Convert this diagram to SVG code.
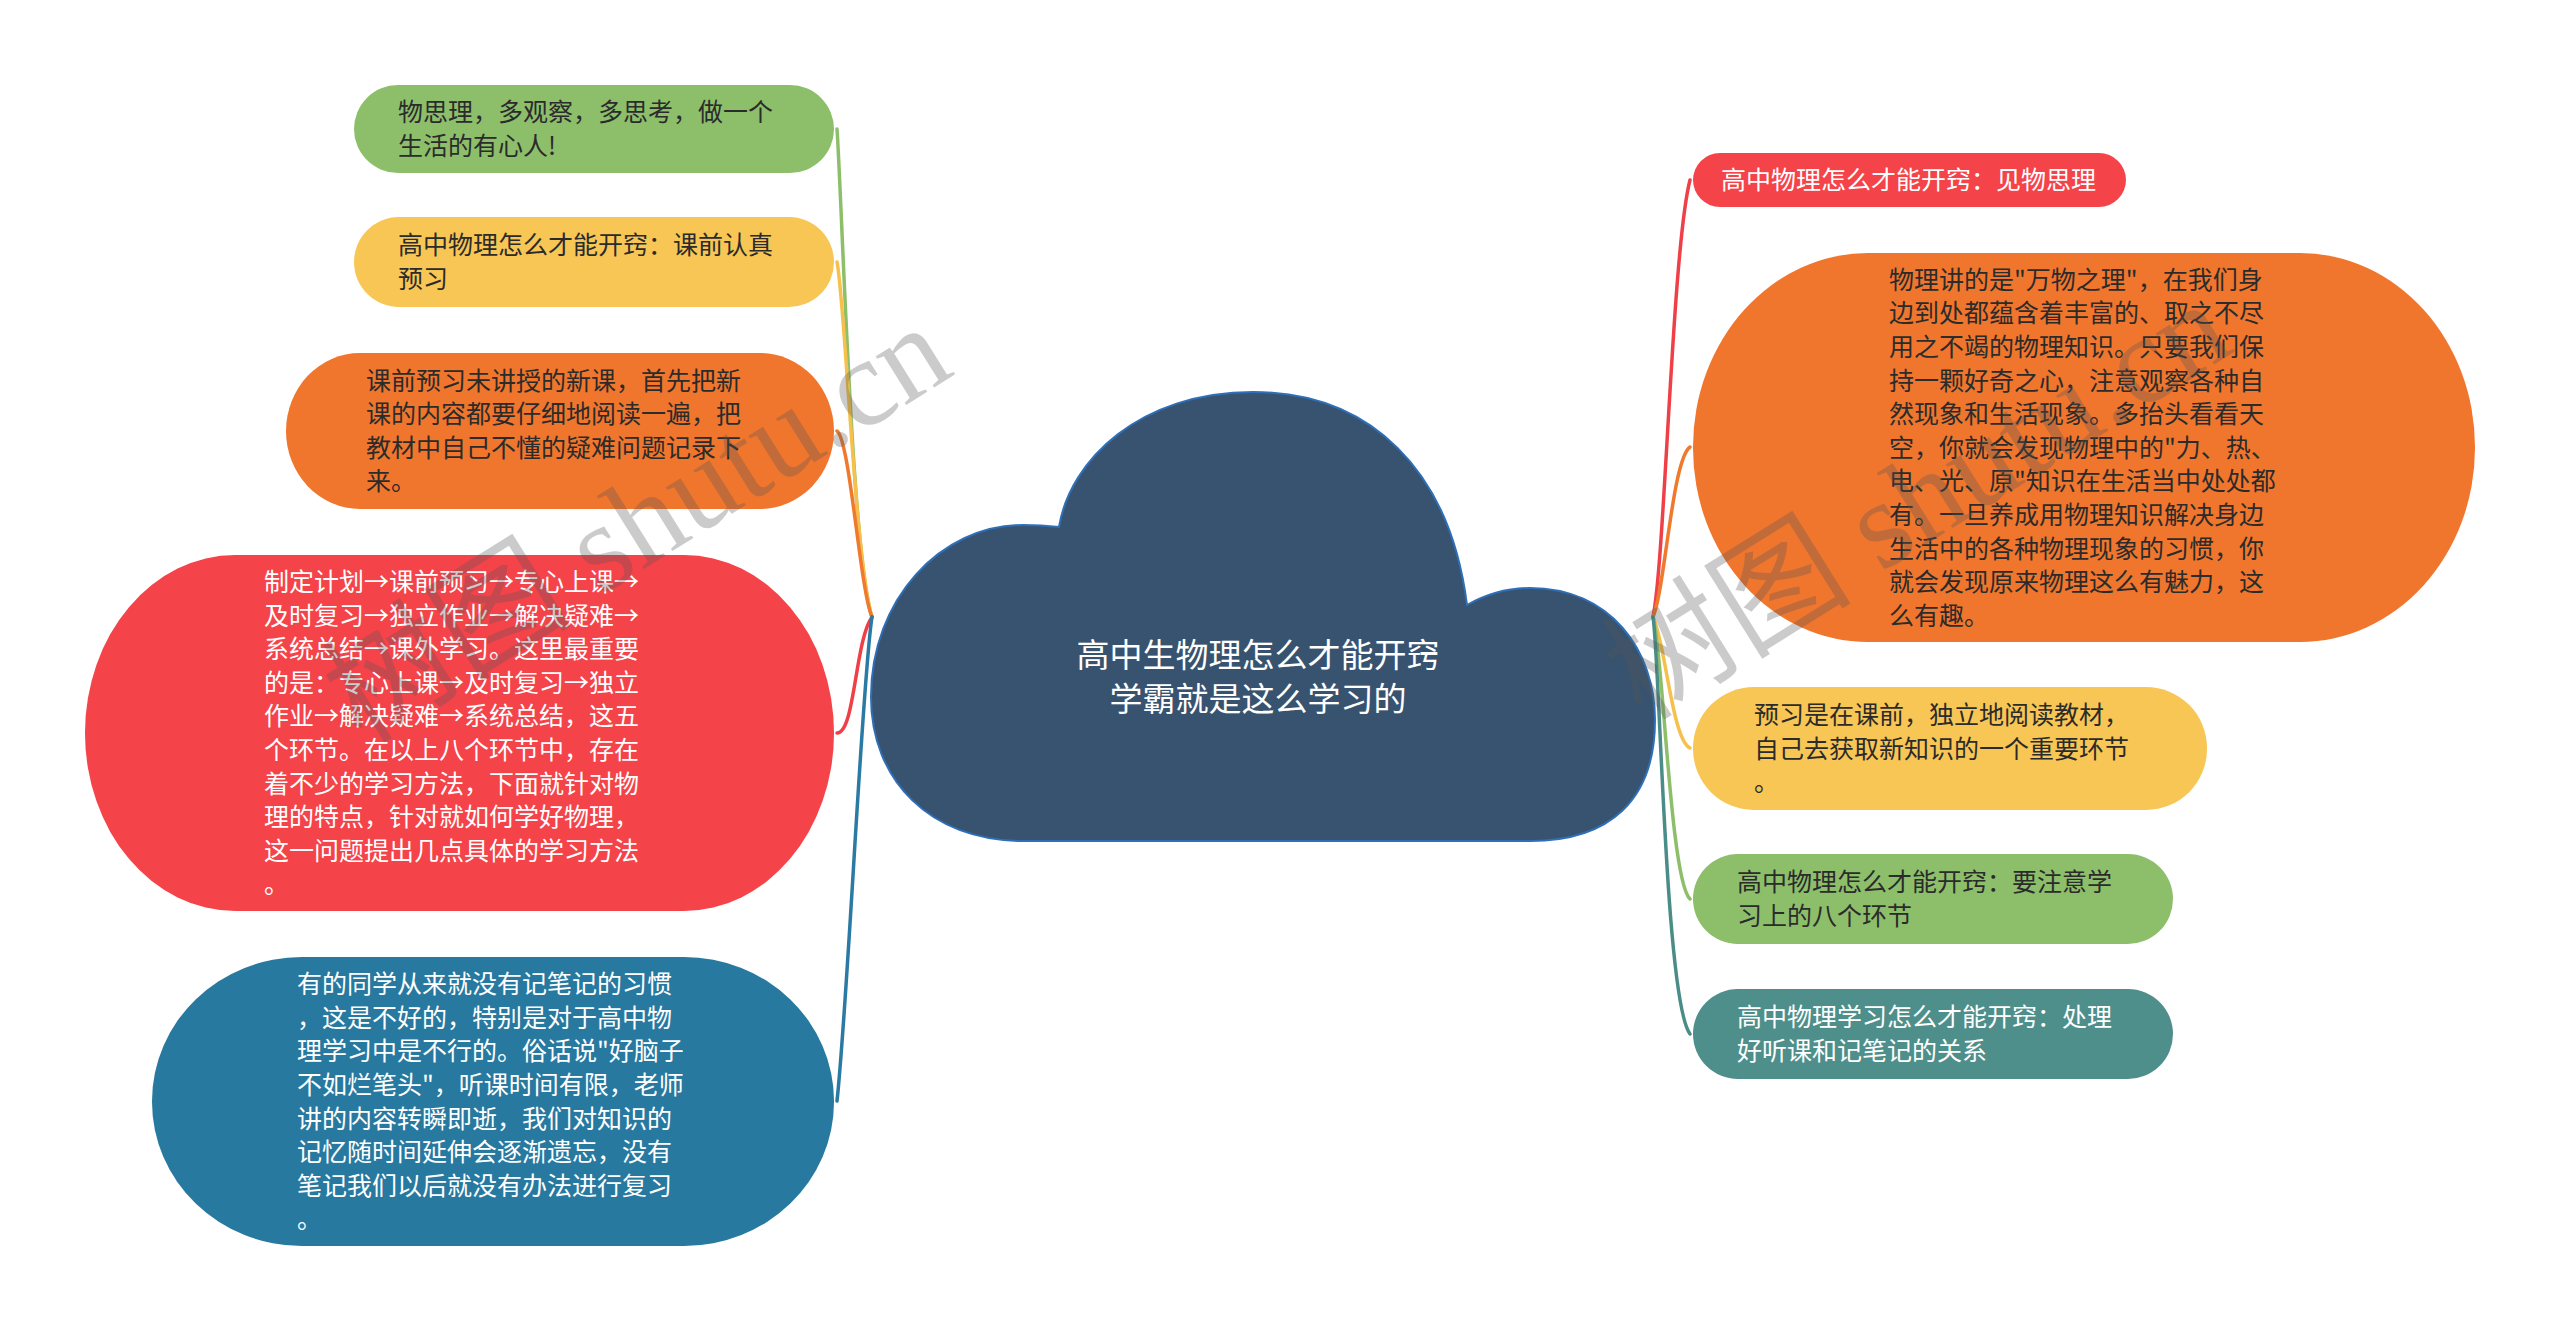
<svg xmlns="http://www.w3.org/2000/svg" width="2560" height="1333" viewBox="0 0 2560 1333">
<style>
.t{font-family:"Noto Sans CJK SC","Noto Sans",sans-serif;font-size:25px;}
.d{fill:#2b2b2b;}
.w{fill:#ffffff;}
.c{font-family:"Noto Sans CJK SC","Noto Sans",sans-serif;font-size:33px;fill:#ffffff;text-anchor:middle;}
.ln{fill:none;stroke-width:3.5;stroke-linecap:round;}
.wm{font-family:"Liberation Serif","Noto Sans CJK SC",serif;font-size:125px;fill:#555555;opacity:0.3;}
</style>
<rect x="0" y="0" width="2560" height="1333" fill="#ffffff"/>
<g id="connectors">
<path class="ln" stroke="#8dbf6b" d="M 872 617 C 852 560, 842 200, 837 129"/>
<path class="ln" stroke="#f5c14c" d="M 872 617 C 855 560, 845 300, 837 262"/>
<path class="ln" stroke="#ef7a2e" d="M 872 617 C 860 590, 850 440, 837 431"/>
<path class="ln" stroke="#f04047" d="M 872 617 C 855 640, 855 733, 837 733"/>
<path class="ln" stroke="#2a7aa3" d="M 872 617 C 862 680, 848 1000, 837 1101"/>
<path class="ln" stroke="#f04047" d="M 1653 617 C 1665 560, 1672 250, 1690 180"/>
<path class="ln" stroke="#ef7a2e" d="M 1653 617 C 1665 590, 1672 460, 1690 447"/>
<path class="ln" stroke="#f5c14c" d="M 1653 617 C 1665 640, 1672 740, 1690 748"/>
<path class="ln" stroke="#8dbf6b" d="M 1653 617 C 1663 650, 1670 880, 1690 899"/>
<path class="ln" stroke="#4a8d88" d="M 1653 617 C 1660 660, 1665 1000, 1690 1034"/>
</g>
<g id="center">
<path d="M 1059 527 C 1070 460, 1140 392, 1253 392 C 1370 392, 1450 470, 1467 605 C 1490 592, 1510 588, 1530 588 C 1610 588, 1655 650, 1655 720 C 1655 800, 1610 841, 1530 841 L 1023 841 C 930 841, 871 780, 871 697 C 871 600, 940 525, 1023 525 C 1035 525, 1050 526, 1059 527 Z" fill="#38536f" stroke="#2f6fb8" stroke-width="2"/>
<text class="c" x="1258" y="667">高中生物理怎么才能开窍</text>
<text class="c" x="1258" y="711">学霸就是这么学习的</text>
</g>
<g id="node-l1">
<rect x="354" y="85" width="480" height="88" rx="44" fill="#8dbf6b"/>
<text class="t d" x="398" y="121">物思理，多观察，多思考，做一个</text>
<text class="t d" x="398" y="155">生活的有心人!</text>
</g>
<g id="node-l2">
<rect x="354" y="217" width="480" height="90" rx="45" fill="#f8c654"/>
<text class="t d" x="398" y="254">高中物理怎么才能开窍：课前认真</text>
<text class="t d" x="398" y="288">预习</text>
</g>
<g id="node-l3">
<rect x="286" y="353" width="548" height="156" rx="74" ry="78" fill="#f0762d"/>
<text class="t d" x="366" y="390">课前预习未讲授的新课，首先把新</text>
<text class="t d" x="366" y="423">课的内容都要仔细地阅读一遍，把</text>
<text class="t d" x="366" y="457">教材中自己不懂的疑难问题记录下</text>
<text class="t d" x="366" y="490">来。</text>
</g>
<g id="node-l4">
<rect x="85" y="555" width="749" height="356" rx="150" ry="178" fill="#f5434a"/>
<text class="t w" x="264" y="591">制定计划→课前预习→专心上课→</text>
<text class="t w" x="264" y="625">及时复习→独立作业→解决疑难→</text>
<text class="t w" x="264" y="658">系统总结→课外学习。这里最重要</text>
<text class="t w" x="264" y="692">的是：专心上课→及时复习→独立</text>
<text class="t w" x="264" y="725">作业→解决疑难→系统总结，这五</text>
<text class="t w" x="264" y="759">个环节。在以上八个环节中，存在</text>
<text class="t w" x="264" y="793">着不少的学习方法，下面就针对物</text>
<text class="t w" x="264" y="826">理的特点，针对就如何学好物理，</text>
<text class="t w" x="264" y="860">这一问题提出几点具体的学习方法</text>
<text class="t w" x="264" y="893">。</text>
</g>
<g id="node-l5">
<rect x="152" y="957" width="682" height="289" rx="150" ry="144" fill="#28799f"/>
<text class="t w" x="297" y="993">有的同学从来就没有记笔记的习惯</text>
<text class="t w" x="297" y="1027">，这是不好的，特别是对于高中物</text>
<text class="t w" x="297" y="1060">理学习中是不行的。俗话说"好脑子</text>
<text class="t w" x="297" y="1094">不如烂笔头"，听课时间有限，老师</text>
<text class="t w" x="297" y="1128">讲的内容转瞬即逝，我们对知识的</text>
<text class="t w" x="297" y="1161">记忆随时间延伸会逐渐遗忘，没有</text>
<text class="t w" x="297" y="1195">笔记我们以后就没有办法进行复习</text>
<text class="t w" x="297" y="1228">。</text>
</g>
<g id="node-r1">
<rect x="1693" y="153" width="433" height="54" rx="27" fill="#f5434a"/>
<text class="t w" x="1721" y="189">高中物理怎么才能开窍：见物思理</text>
</g>
<g id="node-r2">
<rect x="1693" y="253" width="782" height="389" rx="175" ry="194" fill="#f0762d"/>
<text class="t d" x="1889" y="289">物理讲的是"万物之理"，在我们身</text>
<text class="t d" x="1889" y="322">边到处都蕴含着丰富的、取之不尽</text>
<text class="t d" x="1889" y="356">用之不竭的物理知识。只要我们保</text>
<text class="t d" x="1889" y="390">持一颗好奇之心，注意观察各种自</text>
<text class="t d" x="1889" y="423">然现象和生活现象。多抬头看看天</text>
<text class="t d" x="1889" y="457">空，你就会发现物理中的"力、热、</text>
<text class="t d" x="1889" y="490">电、光、原"知识在生活当中处处都</text>
<text class="t d" x="1889" y="524">有。一旦养成用物理知识解决身边</text>
<text class="t d" x="1889" y="558">生活中的各种物理现象的习惯，你</text>
<text class="t d" x="1889" y="591">就会发现原来物理这么有魅力，这</text>
<text class="t d" x="1889" y="625">么有趣。</text>
</g>
<g id="node-r3">
<rect x="1693" y="687" width="514" height="123" rx="61" fill="#f8c654"/>
<text class="t d" x="1754" y="724">预习是在课前，独立地阅读教材，</text>
<text class="t d" x="1754" y="758">自己去获取新知识的一个重要环节</text>
<text class="t d" x="1754" y="791">。</text>
</g>
<g id="node-r4">
<rect x="1693" y="854" width="480" height="90" rx="45" fill="#8dbf6b"/>
<text class="t d" x="1737" y="891">高中物理怎么才能开窍：要注意学</text>
<text class="t d" x="1737" y="925">习上的八个环节</text>
</g>
<g id="node-r5">
<rect x="1693" y="989" width="480" height="90" rx="45" fill="#4e8f8b"/>
<text class="t w" x="1737" y="1026">高中物理学习怎么才能开窍：处理</text>
<text class="t w" x="1737" y="1060">好听课和记笔记的关系</text>
</g>
<g id="watermarks">
<text class="wm" x="362" y="745" transform="rotate(-32 362 745)">树图 shutu.cn</text>
<text class="wm" x="1642" y="722" transform="rotate(-32 1642 722)">树图 shutu.cn</text>
</g>
</svg>
